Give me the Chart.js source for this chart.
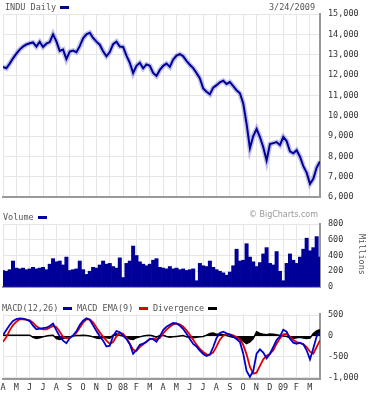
<!DOCTYPE html>
<html>
<head>
<meta charset="utf-8">
<title>INDU Daily</title>
<script src="https://cdn.jsdelivr.net/npm/chart.js@4.4.1/dist/chart.umd.min.js"></script>
<style>
  body { margin: 0; background: #fff; }
  #wrap { position: relative; width: 386px; height: 400px; overflow: hidden;
          font-family: "DejaVu Sans Mono", monospace; font-size: 8.5px; color: #555; }
  canvas { position: absolute; left: 0; }
  .t { position: absolute; white-space: nowrap; line-height: 10px; }
  .sw { position: absolute; width: 9px; height: 3px; }
</style>
</head>
<body>
<div id="wrap">
  <canvas id="priceChart" style="top:0" width="386" height="200"></canvas>
  <canvas id="volumeChart" style="top:210px" width="386" height="80"></canvas>
  <canvas id="macdChart" style="top:300px" width="386" height="100"></canvas>

  <div class="t" style="left:5px;top:2px">INDU Daily</div>
  <div class="sw" style="left:60px;top:6px;background:#000099"></div>
  <div class="t" style="right:71px;top:2px">3/24/2009</div>

  <div class="t" style="left:3px;top:212px">Volume</div>
  <div class="sw" style="left:38px;top:216px;background:#000099"></div>
  <div class="t" style="right:68px;top:210px;font-family:'DejaVu Sans',sans-serif;font-size:8px;color:#999">© BigCharts.com</div>
  <div class="t" style="left:340px;top:251px;transform:rotate(90deg);transform-origin:22px 5px;width:44px">Millions</div>

  <div class="t" style="left:2px;top:303px">MACD(12,26)</div>
  <div class="sw" style="left:63px;top:307px;background:#0000aa"></div>
  <div class="t" style="left:77px;top:303px">MACD EMA(9)</div>
  <div class="sw" style="left:139px;top:307px;background:#dd0000"></div>
  <div class="t" style="left:153px;top:303px">Divergence</div>
  <div class="sw" style="left:208px;top:307px;background:#000"></div>
</div>

<script>
// months from Apr 2007 to Mar 2009 ("08" / "09" mark January)
const monthLabels = ['A','M','J','J','A','S','O','N','D','08','F','M',
                     'A','M','J','J','A','S','O','N','D','09','F','M'];
const lastDay = 23.77; // 3/24/2009, in months after 4/1/2007

// Dow closes, sampled evenly across the period
const closes = [
  12400, 12330, 12560, 12820, 13050, 13250, 13400, 13500, 13560, 13600,
  13400, 13630, 13380, 13540, 13620, 14000, 13650, 13180, 13250, 12780,
  13150, 13200, 13120, 13420, 13800, 14000, 14080, 13820, 13640, 13490,
  13170, 12920, 13130, 13520, 13640, 13400, 13380, 12950, 12600, 12100,
  12450, 12600, 12330, 12520, 12450, 12100, 11950, 12250, 12450,
  12560, 12400, 12760, 12950, 13030, 12920, 12700, 12500, 12340, 12100,
  11830, 11340, 11180, 11050, 11380, 11500, 11640, 11720, 11560, 11650,
  11450, 11250, 11100, 10600, 9600, 8400, 9000, 9350, 8950, 8450,
  7800, 8600, 8650, 8700, 8550, 8950, 8750, 8250, 8150, 8300,
  7980, 7520, 7200, 6650, 6900, 7450, 7750
];

// volume, millions of shares
const volumes = [
  210, 200, 220, 330, 240, 230, 240, 220, 230, 250,
  230, 240, 250, 220, 290, 360, 320, 330, 280, 380,
  210, 220, 230, 330, 220, 160, 200, 250, 240, 280,
  330, 290, 300, 260, 240, 370, 120, 300, 330, 520,
  400, 320, 290, 270, 290, 340, 360, 250, 240, 230,
  260, 230, 240, 220, 230, 210, 220, 230, 80, 300,
  270, 260, 330, 250, 220, 200, 180, 150, 190, 270,
  480, 330, 340, 550, 380, 320, 260, 310, 420, 500,
  300, 280, 450, 200, 80, 300, 420, 340, 300, 380,
  480, 620, 460, 500, 640, 380
];

const macd = [
  24, 143, 262, 357, 405, 421, 413, 389, 357, 246,
  159, 175, 190, 198, 238, 294, 135, -8, -110, -170,
  -48, 16, 111, 262, 365, 421, 389, 254, 119, -8,
  -111, -250, -230, 0, 119, 87, 8, -71, -198, -421,
  -333, -206, -183, -135, -64, -79, -135, -8, 140,
  222, 270, 310, 302, 246, 167, 56, -71, -190, -254,
  -349, -429, -476, -444, -262, -48, 71, 103, 64, 32,
  -16, -71, -143, -421, -834, -977, -834, -421, -318, -397,
  -532, -421, -262, -95, -8, 151, 103, -64, -159, -183,
  -159, -198, -341, -560, -294, -8, 79
];

const signal = [
  -135, -24, 135, 262, 341, 397, 397, 389, 373, 318,
  230, 183, 159, 159, 198, 238, 214, 103, -16, -56,
  -40, 0, 79, 198, 318, 397, 397, 326, 206, 87,
  -16, -111, -190, -143, -8, 79, 56, -40, -183, -325,
  -357, -262, -198, -135, -79, -56, -79, -48, 60,
  151, 222, 278, 294, 278, 222, 135, 32, -87, -206,
  -310, -381, -437, -444, -389, -246, -87, 8, 40, 40,
  16, -24, -79, -214, -437, -738, -897, -873, -714, -556,
  -468, -421, -341, -183, -56, 40, 48, -16, -95, -143,
  -167, -190, -262, -373, -421, -262, -103
];

const divergence = [
  20, 20, 20, 20, 20, 20, 20, 20, 20, -30,
  -60, -40, -20, 0, 10, 20, -60, -80, -60, -30,
  -20, 0, 10, 15, 20, 10, 0, -20, -50, -60,
  -30, -40, -50, 20, 50, 20, 0, -30, -70, -80,
  -40, -20, 0, 10, 20, 0, -30, 10, 20,
  -10, -30, -20, -10, 0, 10, -20, -30, -40, -30,
  -20, -10, 20, 60, 70, 40, 50, 30, 10, -10,
  -30, -40, -70, -120, -180, -140, -60, 100, 60, 40,
  30, 50, 40, 30, 10, 0, -10, -50, -60, -40,
  -30, -50, -60, -50, 60, 120, 150
];

const priceTicks = [6000, 7000, 8000, 9000, 10000, 11000, 12000, 13000, 14000, 15000];
const volumeTicks = [0, 200, 400, 600, 800];
const macdTicks = [-1000, -500, 0, 500];

// spread each series evenly over the time axis
const pts = arr => arr.map((v, i) => ({ x: i * lastDay / (arr.length - 1), y: v }));

Chart.defaults.font.family = "'DejaVu Sans Mono', monospace";
Chart.defaults.font.size = 8.5;
Chart.defaults.color = '#333';
Chart.defaults.animation = false;

function timeAxis(showLabels) {
    return {
        type: 'linear', min: 0, max: lastDay, offset: false,
        afterBuildTicks: s => { s.ticks = monthLabels.map((_, i) => ({ value: i })); },
        afterFit: s => {
            s.height = showLabels ? 18 : 0;
            s.paddingLeft = 0; s.paddingRight = 0;
        },
        grid: { color: '#e6e6e6', drawTicks: false, offset: false },
        border: { display: true, color: '#999', width: 2 },
        ticks: {
            display: showLabels, autoSkip: false, maxRotation: 0, padding: 4,
            callback: v => monthLabels[v]
        }
    };
}

function valueAxis(min, max, values) {
    return {
        position: 'right', min: min, max: max,
        afterBuildTicks: s => { s.ticks = values.map(v => ({ value: v })); },
        afterFit: s => {
            s.width = 66;
            s.paddingTop = 0; s.paddingBottom = 0;
        },
        grid: { color: '#e6e6e6', drawTicks: false },
        border: { display: true, color: '#999', width: 2 },
        ticks: { padding: 8, callback: v => v.toLocaleString('en-US') }
    };
}

const noPlugins = { legend: { display: false }, tooltip: { enabled: false } };

new Chart(document.getElementById('priceChart'), {
    type: 'line',
    data: {
        datasets: [
            { data: pts(closes), borderColor: '#000099', borderWidth: 2, pointRadius: 0, order: 1 },
            { data: pts(closes), borderColor: 'rgba(80,80,200,0.35)', borderWidth: 5, pointRadius: 0, order: 2 }
        ]
    },
    options: {
        responsive: false,
        layout: { padding: { top: 14, left: 3, right: 0, bottom: 3 } },
        plugins: noPlugins,
        scales: { x: timeAxis(false), y: valueAxis(6000, 15000, priceTicks) }
    }
});

new Chart(document.getElementById('volumeChart'), {
    type: 'bar',
    data: {
        datasets: [{
            data: pts(volumes), backgroundColor: '#000099', borderWidth: 0,
            barPercentage: 1, categoryPercentage: 1
        }]
    },
    options: {
        responsive: false,
        layout: { padding: { top: 14, left: 3, right: 0, bottom: 3 } },
        plugins: noPlugins,
        scales: { x: timeAxis(false), y: valueAxis(0, 800, volumeTicks) }
    }
});

new Chart(document.getElementById('macdChart'), {
    type: 'line',
    data: {
        datasets: [
            { data: pts(macd), borderColor: '#0000cc', borderWidth: 1.8, pointRadius: 0, order: 1 },
            { data: pts(signal), borderColor: '#e00000', borderWidth: 1.8, pointRadius: 0, order: 2 },
            { data: pts(divergence), borderColor: '#000', backgroundColor: '#000', borderWidth: 1.5,
              pointRadius: 0, fill: 'origin', order: 3 }
        ]
    },
    options: {
        responsive: false,
        layout: { padding: { top: 14, left: 3, right: 0, bottom: 3 } },
        plugins: noPlugins,
        scales: { x: timeAxis(true), y: valueAxis(-1025, 525, macdTicks) }
    }
});
</script>
</body>
</html>
